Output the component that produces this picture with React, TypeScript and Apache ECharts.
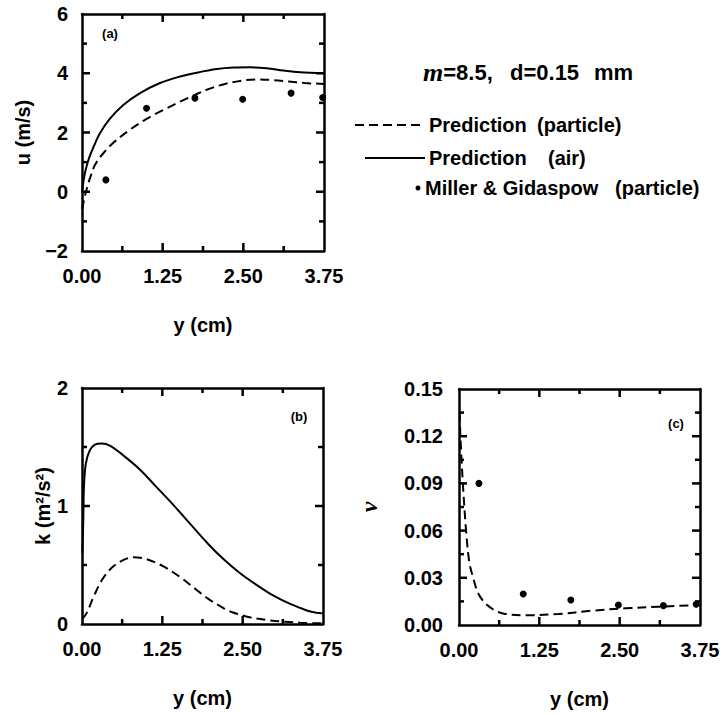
import React, { useEffect, useRef } from 'react';
import * as echarts from 'echarts';

// ---- data ----
const xTickStep = 1.25;
const xMax = 3.75;

// (a) mean velocity u (m/s)
const uParticle: number[][] = [
  [0.0, -0.6], [0.04, -0.2], [0.08, 0.15], [0.13, 0.5], [0.2, 0.9], [0.33, 1.3], [0.49, 1.66],
  [0.74, 2.09], [1.0, 2.46], [1.26, 2.76], [1.52, 3.04], [1.78, 3.3], [1.98, 3.48], [2.2, 3.63],
  [2.45, 3.74], [2.7, 3.79], [2.95, 3.77], [3.2, 3.72], [3.45, 3.67], [3.75, 3.64],
];
const uAir: number[][] = [
  [0.0, 0.0], [0.03, 0.45], [0.07, 0.85], [0.12, 1.2], [0.18, 1.52], [0.28, 1.98], [0.43, 2.46],
  [0.64, 2.93], [0.9, 3.33], [1.21, 3.67], [1.52, 3.89], [1.78, 4.02], [2.09, 4.14],
  [2.35, 4.19], [2.6, 4.2], [2.86, 4.17], [3.12, 4.09], [3.38, 4.03], [3.75, 4.0],
];
const uMeasured: number[][] = [
  [0.37, 0.4], [1.0, 2.82], [1.75, 3.16], [2.49, 3.12], [3.24, 3.33], [3.73, 3.18],
];

// (b) turbulent kinetic energy k (m2/s2)
const kAir: number[][] = [
  [0.005, 0.6], [0.02, 0.88], [0.03, 1.16], [0.06, 1.36], [0.12, 1.47], [0.2, 1.52], [0.31, 1.53],
  [0.44, 1.51], [0.64, 1.43], [0.9, 1.31], [1.16, 1.16], [1.42, 1.01], [1.68, 0.85],
  [1.96, 0.68], [2.2, 0.55], [2.46, 0.43], [2.72, 0.33], [2.98, 0.24], [3.24, 0.17],
  [3.5, 0.115], [3.65, 0.095], [3.75, 0.09],
];
const kParticle: number[][] = [
  [0.0, 0.04], [0.07, 0.09], [0.18, 0.23], [0.33, 0.39], [0.54, 0.51], [0.8, 0.565],
  [1.0, 0.55], [1.26, 0.49], [1.52, 0.4], [1.78, 0.29], [1.96, 0.215], [2.2, 0.135],
  [2.35, 0.098], [2.61, 0.057], [2.87, 0.034], [3.13, 0.02], [3.39, 0.011], [3.75, 0.005],
];

// (c) volume fraction nu
const nuParticle: number[][] = [
  [0.01, 0.135], [0.02, 0.122], [0.04, 0.105], [0.06, 0.09], [0.11, 0.06], [0.16, 0.04],
  [0.22, 0.03], [0.3, 0.02], [0.41, 0.0138], [0.55, 0.0095], [0.7, 0.0072], [1.03, 0.0062],
  [1.55, 0.007], [2.07, 0.0091], [2.59, 0.0106], [3.1, 0.0116], [3.75, 0.0127],
];
const nuMeasured: number[][] = [
  [0.31, 0.09], [1.0, 0.0197], [1.74, 0.0159], [2.48, 0.0127], [3.18, 0.0123], [3.69, 0.0132],
];

// axis ranges of the three panels (a), (b), (c)
const panelY = [
  { min: -2, max: 6, step: 2 },
  { min: 0, max: 2, step: 1 },
  { min: 0, max: 0.15, step: 0.03 },
];

// ---- layout ----
const grids = [
  { left: 82, top: 14, width: 242, height: 237 },
  { left: 82, top: 388, width: 241, height: 236 },
  { left: 459, top: 389, width: 241, height: 236 },
];

// ---- styling helpers ----
const FONT = 'Liberation Sans';
const BLACK = '#000';
const labelFont = { fontFamily: FONT, fontWeight: 'bold' as const, fontSize: 20, color: BLACK };

function frame(
  gridIndex: number,
  min: number,
  max: number,
  interval: number,
  position: string,
  opts: any = {}
) {
  const isMain = position === 'bottom' || position === 'left';
  return {
    type: 'value',
    gridIndex,
    position,
    min,
    max,
    interval,
    axisLine: { show: true, onZero: false, lineStyle: { color: BLACK, width: 2.5 } },
    axisTick: { show: false },
    splitLine: { show: false },
    axisLabel: isMain ? { show: true, ...labelFont, ...(opts.axisLabel || {}) } : { show: false },
    name: isMain ? opts.name : '',
    nameLocation: 'middle',
    nameGap: opts.nameGap,
    nameTextStyle: { ...labelFont, ...(opts.nameTextStyle || {}) },
  };
}

const fmt2 = (v: number) => v.toFixed(2);
const xOpts = { name: 'y (cm)', nameGap: 64, axisLabel: { margin: 15, formatter: fmt2 } };

const dashed = { color: BLACK, width: 2, type: [9, 5] as number[] };
const solid = { color: BLACK, width: 2, type: 'solid' };
const SMOOTH = 0.35;

const txt = (x: number, y: number, text: string, size = 20, align = 'left') => ({
  type: 'text',
  x,
  y,
  style: { text, fontFamily: FONT, fontWeight: 'bold', fontSize: size, fill: BLACK, align, verticalAlign: 'middle' },
});

// tick positions (value, value, side, length) for a panel: side 0 bottom, 1 top, 2 left, 3 right
function tickItems(p: number) {
  const py = panelY[p];
  const items: number[][] = [];
  const nx = Math.round((xMax / xTickStep) * 2);
  for (let k = 1; k < nx; k++) {
    const v = (k * xTickStep) / 2;
    const len = k % 2 === 0 ? 8 : 5;
    items.push([v, py.min, 0, len], [v, py.min, 1, len]);
  }
  const ny = Math.round(((py.max - py.min) / py.step) * 2);
  for (let k = 1; k < ny; k++) {
    const v = py.min + (k * py.step) / 2;
    const len = k % 2 === 0 ? 8 : 5;
    items.push([0, v, 2, len], [0, v, 3, len]);
  }
  return items;
}

const renderTick = (params: any, api: any) => {
  const cs = params.coordSys;
  const side = api.value(2);
  const len = api.value(3);
  const pt = api.coord([api.value(0), api.value(1)]);
  const W = 2.5;
  let shape;
  if (side === 0) shape = { x: pt[0] - W / 2, y: cs.y + cs.height - len, width: W, height: len };
  else if (side === 1) shape = { x: pt[0] - W / 2, y: cs.y, width: W, height: len };
  else if (side === 2) shape = { x: cs.x, y: pt[1] - W / 2, width: len, height: W };
  else shape = { x: cs.x + cs.width - len, y: pt[1] - W / 2, width: len, height: W };
  return { type: 'rect', shape, style: { fill: BLACK } };
};

const tickSeries = [0, 1, 2].map((p) => ({
  name: 'ticks-' + p,
  type: 'custom',
  coordinateSystem: 'cartesian2d',
  xAxisIndex: p * 2,
  yAxisIndex: p * 2,
  silent: true,
  clip: false,
  z: 10,
  renderItem: renderTick,
  data: tickItems(p),
}));

const legendGraphic: any[] = [
  {
    type: 'text', x: 423, y: 72,
    style: {
      text: '{i|m}=8.5,',
      fontFamily: FONT, fontWeight: 'bold', fontSize: 22, fill: BLACK,
      align: 'left', verticalAlign: 'middle',
      rich: { i: { fontFamily: 'Liberation Serif', fontStyle: 'italic', fontWeight: 'bold', fontSize: 26, fill: BLACK } },
    },
  },
  txt(510, 72, 'd=0.15', 22),
  txt(594, 72, 'mm', 22),
  { type: 'line', shape: { x1: 355, y1: 125, x2: 423, y2: 125 }, style: { stroke: BLACK, lineWidth: 2, lineDash: [9, 5] } },
  txt(429, 125, 'Prediction'),
  txt(537, 125, '(particle)'),
  { type: 'line', shape: { x1: 365, y1: 158, x2: 425, y2: 158 }, style: { stroke: BLACK, lineWidth: 2 } },
  txt(429, 158, 'Prediction'),
  txt(548, 158, '(air)'),
  { type: 'circle', shape: { cx: 418, cy: 188, r: 2.5 }, style: { fill: BLACK } },
  txt(425, 188, 'Miller & Gidaspow'),
  txt(615, 188, '(particle)'),
  txt(110, 33, '(a)', 13, 'center'),
  txt(299, 416, '(b)', 13, 'center'),
  txt(676, 423, '(c)', 13, 'center'),
];

const option: any = {
  animation: false,
  backgroundColor: '#fff',
  grid: grids,
  xAxis: [
    frame(0, 0, xMax, xTickStep, 'bottom', xOpts),
    frame(0, 0, xMax, xTickStep, 'top'),
    frame(1, 0, xMax, xTickStep, 'bottom', xOpts),
    frame(1, 0, xMax, xTickStep, 'top'),
    frame(2, 0, xMax, xTickStep, 'bottom', xOpts),
    frame(2, 0, xMax, xTickStep, 'top'),
  ],
  yAxis: [
    frame(0, panelY[0].min, panelY[0].max, panelY[0].step, 'left', {
      name: 'u (m/s)',
      nameGap: 49,
      axisLabel: { margin: 14, formatter: (v: number) => (v < 0 ? '\u2212' + Math.abs(v) : String(v)) },
    }),
    frame(0, panelY[0].min, panelY[0].max, panelY[0].step, 'right'),
    frame(1, panelY[1].min, panelY[1].max, panelY[1].step, 'left', {
      name: 'k (m\u00b2/s\u00b2)', nameGap: 29, axisLabel: { margin: 14 },
    }),
    frame(1, panelY[1].min, panelY[1].max, panelY[1].step, 'right'),
    frame(2, panelY[2].min, panelY[2].max, panelY[2].step, 'left', {
      name: '\u03bd',
      nameGap: 78,
      axisLabel: { margin: 16, formatter: fmt2 },
      nameTextStyle: { fontFamily: 'Liberation Serif', fontStyle: 'italic', fontSize: 24 },
    }),
    frame(2, panelY[2].min, panelY[2].max, panelY[2].step, 'right'),
  ],
  series: [
    {
      name: 'Prediction (particle)', type: 'line', xAxisIndex: 0, yAxisIndex: 0, data: uParticle,
      symbol: 'none', smooth: SMOOTH, lineStyle: dashed,
    },
    {
      name: 'Prediction (air)', type: 'line', xAxisIndex: 0, yAxisIndex: 0, data: uAir,
      symbol: 'none', smooth: SMOOTH, lineStyle: solid,
    },
    {
      name: 'Miller & Gidaspow (particle)', type: 'scatter', xAxisIndex: 0, yAxisIndex: 0, data: uMeasured,
      symbol: 'circle', symbolSize: 7, itemStyle: { color: BLACK, opacity: 1 },
    },
    {
      name: 'k air', type: 'line', xAxisIndex: 2, yAxisIndex: 2, data: kAir,
      symbol: 'none', smooth: SMOOTH, lineStyle: solid,
    },
    {
      name: 'k particle', type: 'line', xAxisIndex: 2, yAxisIndex: 2, data: kParticle,
      symbol: 'none', smooth: SMOOTH, lineStyle: dashed,
    },
    {
      name: 'nu particle', type: 'line', xAxisIndex: 4, yAxisIndex: 4, data: nuParticle,
      symbol: 'none', smooth: SMOOTH, lineStyle: dashed,
    },
    {
      name: 'nu measured', type: 'scatter', xAxisIndex: 4, yAxisIndex: 4, data: nuMeasured,
      symbol: 'circle', symbolSize: 7, itemStyle: { color: BLACK, opacity: 1 },
    },
    ...tickSeries,
  ],
  graphic: legendGraphic,
};

export default function App() {
  const ref = useRef<HTMLDivElement>(null);
  useEffect(() => {
    const chart = echarts.init(ref.current!, null, { renderer: 'svg' });
    chart.setOption(option);
    return () => chart.dispose();
  }, []);
  return (
    <div
      ref={ref}
      style={{ position: 'absolute', left: 0, top: 0, width: 724, height: 715, background: '#fff' }}
    />
  );
}
